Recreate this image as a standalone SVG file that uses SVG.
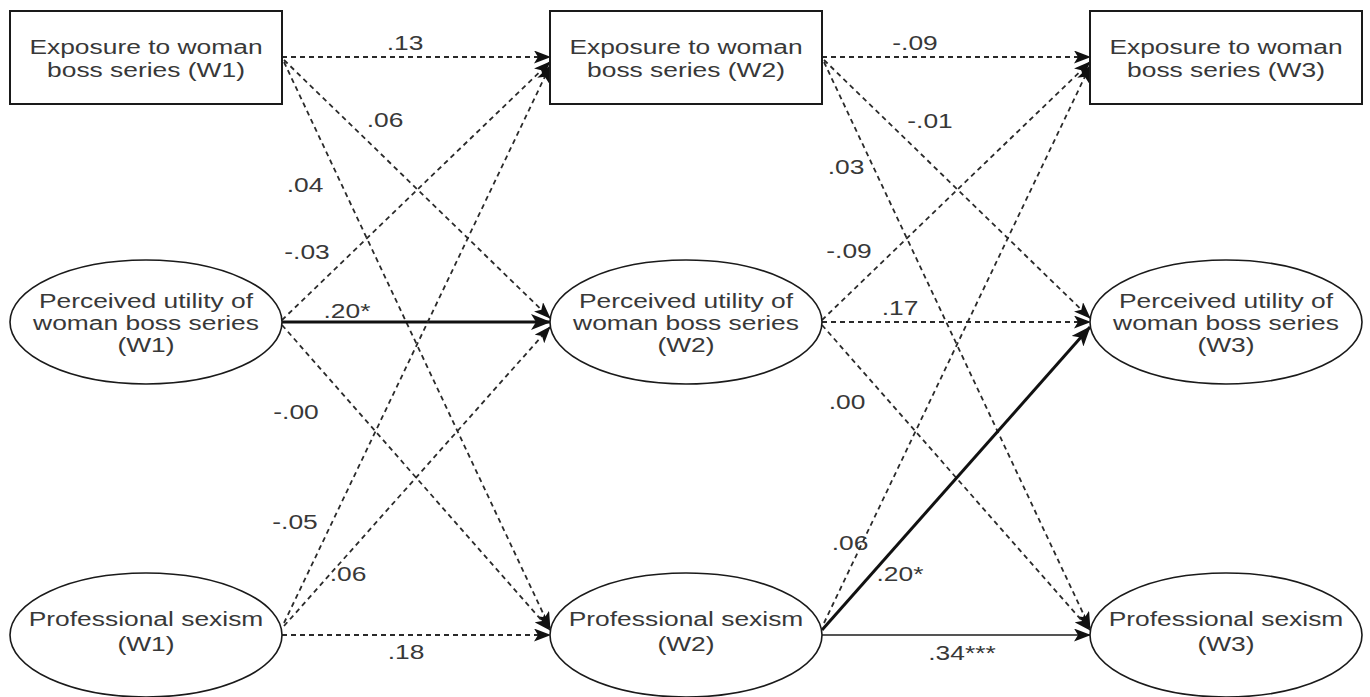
<svg xmlns="http://www.w3.org/2000/svg" width="1370" height="697" viewBox="0 0 1370 697">
<style>
.box{fill:#fff;stroke:#1a1a1a;stroke-width:2}
.ell{fill:#fff;stroke:#1a1a1a;stroke-width:1.6}
.t{font-family:"Liberation Sans",Arial,sans-serif;font-size:20px;fill:#383838;text-anchor:middle}
.dash{fill:none;stroke:#2a2a2a;stroke-width:1.8;stroke-dasharray:5 4;marker-end:url(#ah)}
.bold{fill:none;stroke:#111;stroke-width:3;marker-end:url(#ahb)}
.thin{fill:none;stroke:#555;stroke-width:2;marker-end:url(#ah)}
</style>
<defs>
<marker id="ah" markerUnits="userSpaceOnUse" markerWidth="17" markerHeight="13" refX="16" refY="6.5" orient="auto">
<path d="M0,0 L17,6.5 L0,13 L4,6.5 Z" fill="#111"/>
</marker>
<marker id="ahb" markerUnits="userSpaceOnUse" markerWidth="20" markerHeight="16" refX="19" refY="8" orient="auto">
<path d="M0,0 L20,8 L0,16 L5,8 Z" fill="#111"/>
</marker>
</defs>
<rect width="1370" height="697" fill="#fff"/>

<g id="connectors">
<line class="dash" x1="282" y1="57" x2="550" y2="57"/>
<line class="dash" x1="284" y1="60" x2="550" y2="318"/>
<line class="dash" x1="284" y1="62" x2="550" y2="628"/>
<line class="dash" x1="282" y1="320" x2="550" y2="62"/>
<line class="bold" x1="282" y1="322" x2="550" y2="322"/>
<line class="dash" x1="282" y1="325" x2="550" y2="630"/>
<line class="dash" x1="284" y1="623" x2="550" y2="66"/>
<line class="dash" x1="284" y1="626" x2="550" y2="327"/>
<line class="dash" x1="282" y1="635" x2="550" y2="635"/>

<line class="dash" x1="822" y1="57" x2="1090" y2="57"/>
<line class="dash" x1="824" y1="60" x2="1090" y2="318"/>
<line class="dash" x1="824" y1="62" x2="1090" y2="628"/>
<line class="dash" x1="822" y1="320" x2="1090" y2="62"/>
<line class="dash" x1="822" y1="322" x2="1090" y2="322"/>
<line class="dash" x1="822" y1="325" x2="1090" y2="630"/>
<line class="dash" x1="824" y1="623" x2="1090" y2="66"/>
<line class="bold" x1="822" y1="630" x2="1090" y2="327"/>
<line class="thin" x1="822" y1="635" x2="1090" y2="635"/>
</g>

<g id="labels">
<text class="t" transform="translate(405 50) scale(1.32 1)">.13</text>
<text class="t" transform="translate(385 127) scale(1.32 1)">.06</text>
<text class="t" transform="translate(305 192) scale(1.32 1)">.04</text>
<text class="t" transform="translate(307 259) scale(1.32 1)">-.03</text>
<text class="t" transform="translate(347 318) scale(1.32 1)">.20*</text>
<text class="t" transform="translate(296 419) scale(1.32 1)">-.00</text>
<text class="t" transform="translate(295 529) scale(1.32 1)">-.05</text>
<text class="t" transform="translate(348 581) scale(1.32 1)">.06</text>
<text class="t" transform="translate(406 659) scale(1.32 1)">.18</text>

<text class="t" transform="translate(915 50) scale(1.32 1)">-.09</text>
<text class="t" transform="translate(930 128) scale(1.32 1)">-.01</text>
<text class="t" transform="translate(846 174) scale(1.32 1)">.03</text>
<text class="t" transform="translate(849 258) scale(1.32 1)">-.09</text>
<text class="t" transform="translate(900 315) scale(1.32 1)">.17</text>
<text class="t" transform="translate(847 409) scale(1.32 1)">.00</text>
<text class="t" transform="translate(850 550) scale(1.32 1)">.06</text>
<text class="t" transform="translate(900 581) scale(1.32 1)">.20*</text>
<text class="t" transform="translate(962 660) scale(1.32 1)">.34***</text>
</g>

<g id="exposure-w1">
<rect class="box" x="10" y="11" width="272" height="93"/>
<text class="t" transform="translate(146 54) scale(1.32 1)">Exposure to woman</text>
<text class="t" transform="translate(146 77) scale(1.32 1)">boss series (W1)</text>
</g>
<g id="exposure-w2">
<rect class="box" x="550" y="11" width="272" height="93"/>
<text class="t" transform="translate(686 54) scale(1.32 1)">Exposure to woman</text>
<text class="t" transform="translate(686 77) scale(1.32 1)">boss series (W2)</text>
</g>
<g id="exposure-w3">
<rect class="box" x="1090" y="11" width="272" height="93"/>
<text class="t" transform="translate(1226 54) scale(1.32 1)">Exposure to woman</text>
<text class="t" transform="translate(1226 77) scale(1.32 1)">boss series (W3)</text>
</g>

<g id="utility-w1">
<ellipse class="ell" cx="146" cy="322" rx="136" ry="62"/>
<text class="t" transform="translate(146 308) scale(1.32 1)">Perceived utility of</text>
<text class="t" transform="translate(146 330) scale(1.32 1)">woman boss series</text>
<text class="t" transform="translate(146 352) scale(1.32 1)">(W1)</text>
</g>
<g id="utility-w2">
<ellipse class="ell" cx="686" cy="322" rx="136" ry="62"/>
<text class="t" transform="translate(686 308) scale(1.32 1)">Perceived utility of</text>
<text class="t" transform="translate(686 330) scale(1.32 1)">woman boss series</text>
<text class="t" transform="translate(686 352) scale(1.32 1)">(W2)</text>
</g>
<g id="utility-w3">
<ellipse class="ell" cx="1226" cy="322" rx="136" ry="62"/>
<text class="t" transform="translate(1226 308) scale(1.32 1)">Perceived utility of</text>
<text class="t" transform="translate(1226 330) scale(1.32 1)">woman boss series</text>
<text class="t" transform="translate(1226 352) scale(1.32 1)">(W3)</text>
</g>

<g id="sexism-w1">
<ellipse class="ell" cx="146" cy="635" rx="136" ry="62"/>
<text class="t" transform="translate(146 626) scale(1.32 1)">Professional sexism</text>
<text class="t" transform="translate(146 651) scale(1.32 1)">(W1)</text>
</g>
<g id="sexism-w2">
<ellipse class="ell" cx="686" cy="635" rx="136" ry="62"/>
<text class="t" transform="translate(686 626) scale(1.32 1)">Professional sexism</text>
<text class="t" transform="translate(686 651) scale(1.32 1)">(W2)</text>
</g>
<g id="sexism-w3">
<ellipse class="ell" cx="1226" cy="635" rx="136" ry="62"/>
<text class="t" transform="translate(1226 626) scale(1.32 1)">Professional sexism</text>
<text class="t" transform="translate(1226 651) scale(1.32 1)">(W3)</text>
</g>
</svg>
